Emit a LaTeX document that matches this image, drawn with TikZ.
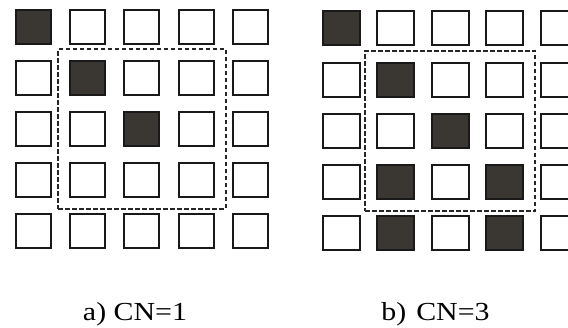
\documentclass[tikz,border=0pt]{standalone}
\usepackage{fontspec}
\setmainfont{Liberation Serif}
\newfontfamily\capfont[FakeStretch=1.15]{Liberation Serif}
\usetikzlibrary{positioning, fit, backgrounds}
\definecolor{cellfill}{RGB}{58, 54, 50}

\begin{document}
\begin{tikzpicture}[x=1pt, y=-1pt,
    cell/.style={draw=black!90, line width=2pt, minimum height=34pt, inner sep=0pt},
    window/.style={draw=black!85, line width=1.8pt, dash pattern=on 4.5pt off 2.5pt, inner sep=11pt},
    caption/.style={font=\capfont\fontsize{26}{30}\selectfont, anchor=base}
]
\useasboundingbox (0,0) rectangle (568,328);

% Left grid: a) CN=1
\foreach \r in {1,...,5}
  \foreach \c in {1,...,5}
    \node[cell, minimum width=35pt] (a-\r-\c) at ({33.5+54.2*(\c-1)}, {27+51*(\r-1)}) {};

% Right grid: b) CN=3
\foreach \r in {1,...,5}
  \foreach \c in {1,...,5}
    \node[cell, minimum width=37pt] (b-\r-\c) at ({341+54.5*(\c-1)}, {28.5+51.25*(\r-1)}) {};

% Filled cells
\begin{scope}[on background layer]
\foreach \n in {a-1-1, a-2-2, a-3-3, b-1-1, b-2-2, b-3-3, b-4-2, b-4-4, b-5-2, b-5-4}
  \fill[cellfill] (\n.south west) rectangle (\n.north east);
\end{scope}

% Dashed windows
\node[window, fit=(a-2-2)(a-4-4)] (awin) {};
\node[window, fit=(b-2-2)(b-4-4)] (bwin) {};

% Captions
\node[caption] (acap) at (135, 321) {a) CN=1};
\node[caption] (bcap) at (435.5, 321) {b)\hspace{10pt}CN=3};

\end{tikzpicture}
\end{document}
